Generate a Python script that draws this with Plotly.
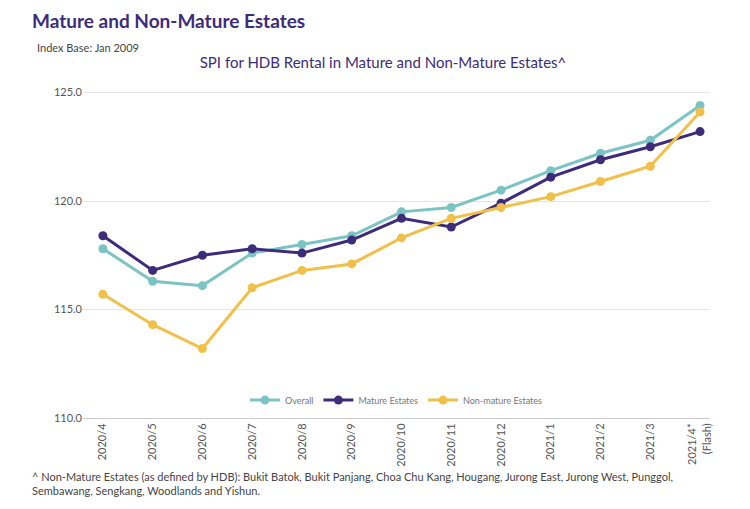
import plotly.graph_objects as go

months = ["2020/4", "2020/5", "2020/6", "2020/7", "2020/8", "2020/9", "2020/10",
          "2020/11", "2020/12", "2021/1", "2021/2", "2021/3", "2021/4*<br>(Flash)"]
overall = [117.8, 116.3, 116.1, 117.6, 118.0, 118.4, 119.5, 119.7, 120.5, 121.4, 122.2, 122.8, 124.4]
mature = [118.4, 116.8, 117.5, 117.8, 117.6, 118.2, 119.2, 118.8, 119.9, 121.1, 121.9, 122.5, 123.2]
non_mature = [115.7, 114.3, 113.2, 116.0, 116.8, 117.1, 118.3, 119.2, 119.7, 120.2, 120.9, 121.6, 124.1]

series = [("Overall", overall, "#7cc4c4"),
          ("Mature Estates", mature, "#3d2c7a"),
          ("Non-mature Estates", non_mature, "#f0c04a")]

fig = go.Figure()
for name, vals, color in series:
    fig.add_trace(go.Scatter(x=months, y=vals, name=name, mode="lines+markers",
                             line=dict(color=color, width=3),
                             marker=dict(color=color, size=9)))

font = "Lato, Noto Sans, sans-serif"
fig.update_layout(
    width=750, height=509, plot_bgcolor="white", paper_bgcolor="white",
    margin=dict(l=75, r=48, t=78, b=99),
    font=dict(family=font, color="#555"),
    title=dict(text="SPI for HDB Rental in Mature and Non-Mature Estates^",
               x=0.5, xanchor="center", y=0.892, yanchor="middle",
               font=dict(size=15, color="#3d2c7a")),
    legend=dict(orientation="h", x=0.5, xanchor="center", y=0.054, yanchor="middle",
                font=dict(size=9, color="#777")),
    yaxis=dict(range=[110, 125.3], tickvals=[110, 115, 120, 125], tickformat=".1f",
               showgrid=True, gridcolor="#e6e6e6", zeroline=False, tickfont=dict(size=11),
               automargin=False),
    xaxis=dict(tickangle=-90, showline=True, linecolor="#ccc", tickfont=dict(size=11),
               range=[-0.4, 12.2], automargin=False),
)
fig.add_annotation(text="<b>Mature and Non-Mature Estates</b>", xref="paper", yref="paper",
                   x=-0.085, y=1.196, xanchor="left", yanchor="middle", showarrow=False,
                   font=dict(size=19, color="#3d2c7a"))
fig.add_annotation(text="Index Base: Jan 2009", xref="paper", yref="paper",
                   x=-0.077, y=1.115, xanchor="left", yanchor="middle", showarrow=False,
                   font=dict(size=11, color="#444"))
fig.add_annotation(text="^ Non-Mature Estates (as defined by HDB): Bukit Batok, Bukit Panjang, Choa Chu Kang, Hougang, Jurong East, Jurong West, Punggol,<br>Sembawang, Sengkang, Woodlands and Yishun.",
                   xref="paper", yref="paper", x=-0.085, y=-0.15, xanchor="left",
                   yanchor="top", align="left", showarrow=False,
                   font=dict(size=11, color="#444"))
fig.write_html("out.html")
